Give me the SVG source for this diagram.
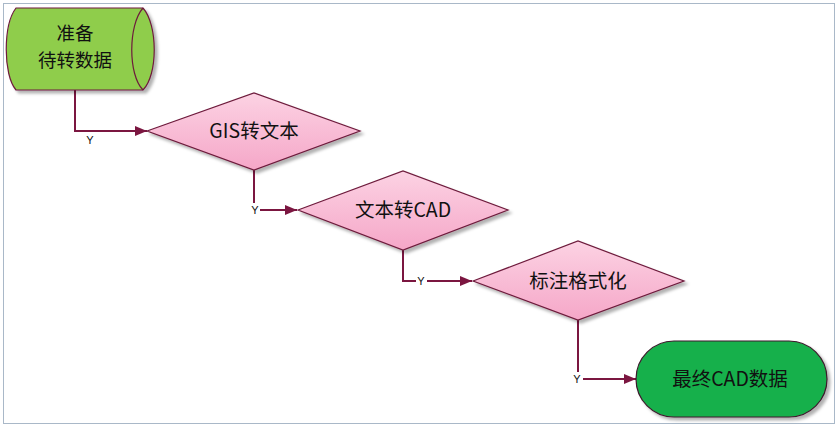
<svg xmlns="http://www.w3.org/2000/svg" width="838" height="428" viewBox="0 0 838 428">
<style>
.t{font-family:"Noto Sans CJK SC","Liberation Sans",sans-serif;font-size:19.5px;fill:#111;text-anchor:middle}
.s{font-size:18.5px}
.y{font-family:"Liberation Sans",sans-serif;font-size:11px;fill:#111;text-anchor:middle}
.c{fill:none;stroke:#7b1640;stroke-width:2}
.d{fill:url(#pk);stroke:#6e1b3c;stroke-width:1.2}
</style>
<defs>
<linearGradient id="pk" x1="0" y1="0" x2="0" y2="1"><stop offset="0" stop-color="#fcd2e3"/><stop offset="1" stop-color="#f5a7c8"/></linearGradient>
<marker id="ah" viewBox="0 0 12 10" refX="12" refY="5" markerWidth="12" markerHeight="10" markerUnits="userSpaceOnUse" orient="auto"><path d="M0,0 L12,5 L0,10 Z" fill="#7b1640"/></marker>
<filter id="sh" x="-10%" y="-10%" width="130%" height="130%"><feDropShadow dx="3" dy="3" stdDeviation="1.5" flood-color="#000" flood-opacity="0.3"/></filter>
</defs>
<rect x="3.5" y="3.5" width="831" height="420" fill="#fff" stroke="#a9b8c8" stroke-width="1"/>
<g id="connectors">
<path class="c" d="M75,90 V131 H147" marker-end="url(#ah)"/>
<rect x="85" y="134" width="10" height="12" fill="#fff"/>
<text class="y" x="90" y="144">Y</text>
<path class="c" d="M254,170 V210 H297" marker-end="url(#ah)"/>
<rect x="249" y="203" width="11" height="13" fill="#fff"/>
<text class="y" x="255" y="214">Y</text>
<path class="c" d="M403,250 V281 H472" marker-end="url(#ah)"/>
<rect x="416" y="274" width="11" height="13" fill="#fff"/>
<text class="y" x="421" y="285">Y</text>
<path class="c" d="M578,320 V379 H636" marker-end="url(#ah)"/>
<rect x="572" y="372" width="11" height="13" fill="#fff"/>
<text class="y" x="577" y="383">Y</text>
</g>
<g id="start">
<path d="M16,8 H143 C158,25 158,75 143,90 H16 C3,75 3,25 16,8 Z" fill="#8fcd4c" stroke="#6e1b3c" stroke-width="1.2" filter="url(#sh)"/>
<path d="M143,8 C128,25 128,75 143,90" fill="none" stroke="#6e1b3c" stroke-width="1.2"/>
<text class="t s" x="75" y="40">准备</text>
<text class="t s" x="75" y="67">待转数据</text>
</g>
<g id="d1">
<path class="d" d="M147,131 L254,93 L360,131 L254,170 Z" filter="url(#sh)"/>
<text class="t" x="254" y="138">GIS转文本</text>
</g>
<g id="d2">
<path class="d" d="M298,210 L403,171 L508,210 L403,250 Z" filter="url(#sh)"/>
<text class="t" x="403" y="217">文本转CAD</text>
</g>
<g id="d3">
<path class="d" d="M473,281 L578,241 L684,281 L578,320 Z" filter="url(#sh)"/>
<text class="t" x="578" y="288">标注格式化</text>
</g>
<g id="end">
<rect x="636" y="341" width="191" height="76" rx="38" ry="38" fill="#19b04b" stroke="#3a1a2a" stroke-width="1.2" filter="url(#sh)"/>
<text class="t" x="730" y="386">最终CAD数据</text>
</g>
</svg>
